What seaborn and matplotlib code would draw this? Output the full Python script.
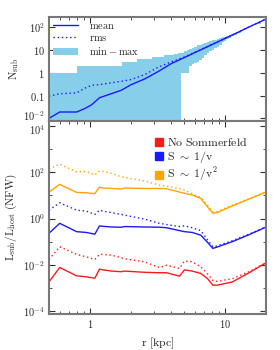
import numpy as np
import pandas as pd
import matplotlib
matplotlib.use("Agg")
import matplotlib.pyplot as plt
import matplotlib.transforms as mtransforms
from matplotlib.ticker import FixedLocator, FixedFormatter, LogLocator, NullFormatter
from matplotlib.patches import Patch
from matplotlib.lines import Line2D
import seaborn as sns

#----------------------DATA-----------------------------------------------------
# top panel : number of subhalos inside r
r_top = [0.5, 0.6, 0.8, 0.92, 1.03, 1.18, 1.44, 1.71, 2.02, 2.54, 3.18, 4.0, 5.0, 6.0, 8.0, 11.6, 15.0, 20.0]
n_mean = [0.01, 0.019, 0.019, 0.027, 0.039, 0.08, 0.12, 0.17, 0.3, 0.53, 1.1, 2.5, 4.6, 7.7, 17, 48, 100, 222]
n_rms = [0.093, 0.12, 0.13, 0.21, 0.28, 0.3, 0.36, 0.42, 0.5, 0.82, 1.7, 3.0, 4.9, 7.9, 17.5, 49, 101, 224]

# min-max band (steps)
r_band = [0.5, 0.81, 1.73, 2.25, 2.9, 3.56, 3.9, 4.2, 4.5, 4.7, 5.0, 5.2, 5.4, 5.65, 5.9, 6.15, 6.4, 6.7, 7.0,
          7.3, 7.6, 7.95, 8.3, 8.65, 9.0, 9.4, 9.8, 10.2, 10.6, 11.1, 11.6, 12.3, 13.0, 14.0, 15.0, 16.0, 17.0, 18.5, 20.0]
n_max = [1, 2, 3, 4, 5, 6, 6.2, 6.5, 7, 7.5, 8.5, 9.5, 11, 12.5, 14, 15.5, 17, 18.5, 20,
         22, 24, 26, 28, 30, 33, 35, 38, 41, 45, 49, 53, 60, 70, 85, 103, 125, 150, 185, 225]
n_min = [1e-3, 1e-3, 1e-3, 1e-3, 1e-3, 1e-3, 1e-3, 1e-3, 1e-3, 1, 1, 1, 2, 2.3, 2.6, 3, 3.5, 4.5, 6,
         7, 8.5, 10, 12, 14, 17, 21, 25, 29, 33, 39, 45, 55, 65, 80, 97, 118, 140, 175, 215]

# bottom panel : luminosity ratio
r_bot = [0.5, 0.6, 0.8, 0.94, 1.09, 1.18, 1.25, 1.45, 1.71, 1.81, 2.54, 3.27, 3.68, 4.6, 5.0, 5.7, 6.6, 7.4, 8.1, 8.7, 11.3, 15.0, 19.7]
red_solid = [0.0018, 0.0076, 0.0033, 0.003, 0.0026, 0.0065, 0.006, 0.0053, 0.005, 0.0053, 0.0047, 0.0045, 0.0045, 0.0032, 0.006, 0.0053, 0.0042, 0.0025, 0.0013, 0.0013, 0.0018, 0.0045, 0.0115]
red_dot = [0.017, 0.06, 0.028, 0.022, 0.017, 0.028, 0.028, 0.026, 0.02, 0.018, 0.0134, 0.0075, 0.0095, 0.0069, 0.0145, 0.0134, 0.0081, 0.004, 0.0021, 0.0019, 0.0025, 0.005, 0.0115]
blue_solid = [0.23, 0.62, 0.27, 0.25, 0.21, 0.48, 0.46, 0.43, 0.42, 0.45, 0.43, 0.42, 0.4, 0.3, 0.27, 0.25, 0.19, 0.093, 0.051, 0.058, 0.1, 0.2, 0.41]
blue_dot = [2.3, 4.8, 2.3, 2.1, 1.5, 2.3, 2.1, 1.8, 1.5, 1.4, 0.94, 0.62, 0.55, 0.45, 0.48, 0.4, 0.3, 0.12, 0.06, 0.065, 0.11, 0.21, 0.42]
orange_solid = [14, 30, 13.5, 13, 12, 23, 21, 20, 19, 21, 20, 20, 19.5, 14, 12.3, 10.5, 7.4, 3.2, 1.7, 1.8, 3.5, 7, 13.5]
orange_dot = [140, 226, 105, 110, 76, 116, 110, 90, 64, 60, 42, 28, 25, 20, 17, 12, 8.2, 3.8, 1.9, 2.0, 3.8, 7.2, 13.8]

top_ticks = [0.01, 0.1, 1, 10, 100]
top_labels = [r'$10^{-2}$', r'$0.1$', r'$1$', r'$10$', r'$10^{2}$']
bot_ticks = [1e-4, 1e-2, 1, 1e2, 1e4]
bot_labels = [r'$10^{-4}$', r'$10^{-2}$', r'$10^{0}$', r'$10^{2}$', r'$10^{4}$']
x_ticks = [1, 10]
x_labels = [r'$1$', r'$10$']

c_red = '#ff1a1a'
c_blue = '#1a1aff'
c_orange = '#ffa500'
c_band = '#87ceeb'

#----------------------PLOT-----------------------------------------------------
sns.set_style("ticks")
plt.rcParams['mathtext.fontset'] = 'cm'
plt.rcParams['font.family'] = ['DejaVu Serif']
plt.rcParams['font.size'] = 7.5

fig = plt.figure(figsize=(2.8, 3.5), dpi=100)
ax1 = fig.add_axes([0.175, 0.654, 0.775, 0.297])
ax2 = fig.add_axes([0.175, 0.103, 0.775, 0.551])

# top panel
ax1.fill_between(r_band, n_min, n_max, step='post', color=c_band, linewidth=0)
sns.lineplot(x=r_top, y=n_mean, ax=ax1, color=c_blue, linewidth=1.0)
sns.lineplot(x=r_top, y=n_rms, ax=ax1, color=c_blue, linewidth=1.0, linestyle=(0, (1, 2)))

# bottom panel
for ys, col in [(red_solid, c_red), (blue_solid, c_blue), (orange_solid, c_orange)]:
    sns.lineplot(x=r_bot, y=ys, ax=ax2, color=col, linewidth=1.0)
for ys, col in [(red_dot, c_red), (blue_dot, c_blue), (orange_dot, c_orange)]:
    sns.lineplot(x=r_bot, y=ys, ax=ax2, color=col, linewidth=1.0, linestyle=(0, (1, 2)))

for ax in (ax1, ax2):
    ax.set_xscale('log')
    ax.set_yscale('log')
    ax.set_xlim(0.5, 20)
    ax.xaxis.set_major_locator(FixedLocator(x_ticks))
    ax.xaxis.set_major_formatter(FixedFormatter(x_labels))
    ax.xaxis.set_minor_locator(LogLocator(base=10, subs=np.arange(2, 10)))
    ax.xaxis.set_minor_formatter(NullFormatter())
    ax.tick_params(which='both', direction='in', top=True, right=True, color='#333333')
    ax.tick_params(which='major', length=4, width=0.8, labelsize=7.5, pad=3)
    ax.tick_params(which='minor', length=2, width=0.6)
    for s in ax.spines.values():
        s.set_color('#787878')
        s.set_linewidth(1.5)

ax1.set_ylim(0.0076, 270)
ax1.yaxis.set_major_locator(FixedLocator(top_ticks))
ax1.yaxis.set_major_formatter(FixedFormatter(top_labels))
ax1.yaxis.set_minor_locator(LogLocator(base=10, subs=np.arange(2, 10)))
ax1.yaxis.set_minor_formatter(NullFormatter())
ax1.tick_params(axis='x', labelbottom=False)
ax1.set_ylabel(r'$\mathrm{N_{sub}}$', fontsize=8)
ax1.yaxis.set_label_coords(-0.13, 0.5)

ax2.set_ylim(7.4e-5, 1.65e4)
ax2.yaxis.set_major_locator(FixedLocator(bot_ticks))
ax2.yaxis.set_major_formatter(FixedFormatter(bot_labels))
ax2.yaxis.set_minor_locator(FixedLocator([1e-3, 1e-1, 1e1, 1e3]))
ax2.yaxis.set_minor_formatter(NullFormatter())
ax2.set_ylabel(r'$\mathrm{L_{sub}/L_{host}\ (NFW)}$', fontsize=8)
ax2.yaxis.set_label_coords(-0.14, 0.5)
ax2.set_xlabel(r'$\mathrm{r\ [kpc]}$', fontsize=8.5)

# the two labels at the panel junction touch, push them apart a little
fig.canvas.draw()
lab_top = ax1.get_yticklabels()[0]
lab_top.set_transform(lab_top.get_transform() + mtransforms.ScaledTranslation(0, 2 / 72, fig.dpi_scale_trans))
lab_bot = ax2.get_yticklabels()[-1]
lab_bot.set_transform(lab_bot.get_transform() + mtransforms.ScaledTranslation(0, -2 / 72, fig.dpi_scale_trans))

# legends
h1 = [Line2D([], [], color=c_blue, lw=1.0),
      Line2D([], [], color=c_blue, lw=1.0, linestyle=(0, (1, 2))),
      Patch(facecolor=c_band, edgecolor='none')]
ax1.legend(h1, [r'$\mathrm{mean}$', r'$\mathrm{rms}$', r'$\mathrm{min-max}$'],
           loc='upper left', frameon=False, fontsize=7.5, handlelength=2.4,
           handletextpad=1.0, labelspacing=0.25, borderaxespad=0.2, borderpad=0.2)

h2 = [Line2D([], [], marker='s', color=c, linestyle='none', markersize=5.5) for c in (c_red, c_blue, c_orange)]
ax2.legend(h2, [r'$\mathrm{No\ Sommerfeld}$', r'$\mathrm{S\ \sim\ 1/v}$', r'$\mathrm{S\ \sim\ 1/v^{2}}$'],
           loc='upper right', bbox_to_anchor=(0.95, 0.96), frameon=False, fontsize=8.5, handlelength=0.8,
           handletextpad=0.3, labelspacing=0.05, borderaxespad=0.3, borderpad=0.3)

fig.savefig("out.png", dpi=100)
